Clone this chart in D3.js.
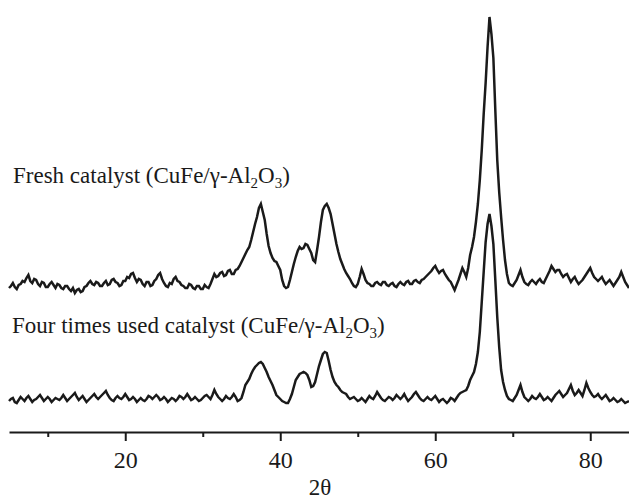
<!DOCTYPE html>
<html>
<head>
<meta charset="utf-8">
<script src="https://cdn.jsdelivr.net/npm/d3@7/dist/d3.min.js"></script>
<style>
  html, body { margin: 0; padding: 0; background: #fff; }
  svg { display: block; }
</style>
</head>
<body>
<svg id="chart" width="629" height="501"></svg>
<script>
// 2θ grid (degrees), 0.25° steps from 5 to 85
const twoTheta = d3.range(5, 85.0001, 0.25);

// Fresh catalyst (CuFe/γ-Al2O3) intensity (arbitrary units), 8 values per 2°
const freshIntensity = [
  144,146,149,145,143,147,148,151,
  150,154,157,151,149,153,152,148,
  146,150,149,145,145,148,150,147,
  144,148,147,144,143,146,146,143,
  141,144,139,142,143,140,141,145,
  146,149,151,148,147,150,149,146,
  146,149,151,147,148,152,153,150,
  149,146,147,151,151,155,154,158,
  159,154,150,153,152,148,146,150,
  150,146,147,151,153,157,159,153,
  149,146,145,149,148,153,155,151,
  150,147,146,144,144,148,147,144,
  143,146,146,143,143,147,145,144,
  148,153,158,155,156,159,160,156,
  157,161,162,158,158,162,163,166,
  170,174,178,182,185,192,200,208,
  215,224,228,220,212,198,186,179,
  174,171,170,166,162,152,146,144,
  145,152,160,168,175,181,185,183,
  184,188,187,183,179,172,170,182,
  195,210,222,226,228,224,218,208,
  198,188,180,173,168,163,159,156,
  153,149,146,145,148,155,163,158,
  152,149,148,146,146,149,150,148,
  147,150,150,147,146,148,149,146,
  145,148,150,148,147,150,151,148,
  148,151,152,150,149,152,153,155,
  157,159,161,164,166,162,159,161,
  162,158,155,152,150,146,142,147,
  152,158,164,160,155,164,177,185,
  195,210,228,252,282,318,349,385,
  415,398,374,322,272,240,215,192,
  172,158,149,147,146,149,152,157,
  162,155,150,148,147,150,152,150,
  148,151,153,150,149,153,157,161,
  166,163,160,162,162,158,155,157,
  158,154,150,153,155,151,148,150,
  152,155,158,161,164,159,155,153,
  151,153,155,151,148,150,152,149,
  146,149,152,155,160,155,150,147,
  144
];

// Four times used catalyst (CuFe/γ-Al2O3) intensity (arbitrary units)
const usedIntensity = [
  31,33,34,30,29,32,35,33,
  31,34,36,33,30,32,33,35,
  37,34,31,33,35,33,30,32,
  34,33,32,34,37,34,31,33,
  35,37,39,35,32,34,36,33,
  30,32,34,36,38,35,33,35,
  37,39,41,37,34,32,31,34,
  36,34,33,35,38,35,32,33,
  35,33,30,32,34,32,31,33,
  36,35,33,35,37,35,32,33,
  35,33,30,32,34,33,31,33,
  36,35,33,35,38,35,32,33,
  35,33,31,32,34,36,37,35,
  33,37,42,38,35,33,31,33,
  36,34,33,35,38,35,31,32,
  34,40,47,50,53,58,62,65,
  67,69,70,68,64,60,55,51,
  47,42,37,35,33,31,30,29,
  29,33,38,45,52,55,58,59,
  60,59,57,52,45,46,50,58,
  66,72,78,80,79,71,62,55,
  50,47,45,42,40,39,38,35,
  33,34,35,33,31,32,34,32,
  30,33,36,34,33,36,40,37,
  34,32,31,33,35,34,32,34,
  37,35,33,35,38,34,31,33,
  35,38,40,37,34,32,31,33,
  35,33,32,34,36,33,30,32,
  33,31,29,31,34,33,31,34,
  37,39,40,41,42,46,52,56,
  60,68,80,100,130,160,190,208,
  218,206,188,152,115,85,62,50,
  42,36,33,32,31,34,37,42,
  47,40,35,33,31,33,36,34,
  33,35,38,35,32,33,35,33,
  31,34,37,39,41,38,35,37,
  39,43,47,41,37,39,42,39,
  36,42,49,44,40,37,35,36,
  38,35,33,35,37,34,31,32,
  34,32,30,31,33,31,29,30,
  31
];

const majorTicks = [20, 40, 60, 80];
const minorTicks = [10, 30, 50, 70];
const xLabel = "2θ";
const freshLabel = ["Fresh catalyst (CuFe/γ-Al", "2", "O", "3", ")"];
const usedLabel = ["Four times used catalyst (CuFe/γ-Al", "2", "O", "3", ")"];

const serif = '"Liberation Serif", "Times New Roman", serif';
const ink = "#1a1a1a";
const svg = d3.select("#chart");

const x = d3.scaleLinear().domain([5, 85]).range([9, 629]);
const y = d3.scaleLinear().domain([0, 420]).range([432, 12]);

const line = d3.line()
  .x((d, i) => x(twoTheta[i]))
  .y(d => y(d));

[freshIntensity, usedIntensity].forEach(series => {
  svg.append("path")
    .datum(series)
    .attr("d", line)
    .attr("fill", "none")
    .attr("stroke", ink)
    .attr("stroke-width", 2.5)
    .attr("stroke-linejoin", "miter");
});

// Axis
const axisY = 432;
const gx = svg.append("g").attr("transform", `translate(0,${axisY})`);
gx.call(d3.axisBottom(x).tickValues(majorTicks).tickSize(9).tickSizeOuter(0));
gx.select(".domain").attr("stroke", ink).attr("stroke-width", 2);
gx.selectAll(".tick line").attr("stroke", ink).attr("stroke-width", 2);
gx.selectAll(".tick text")
  .style("font-family", serif)
  .style("font-size", "24px")
  .style("fill", ink)
  .attr("y", 36).attr("dy", 0);

const gm = svg.append("g").attr("transform", `translate(0,${axisY})`);
gm.call(d3.axisBottom(x).tickValues(minorTicks).tickSize(5).tickSizeOuter(0).tickFormat(""));
gm.select(".domain").remove();
gm.selectAll(".tick line").attr("stroke", ink).attr("stroke-width", 2);

svg.append("text")
  .attr("x", x(45) + 1).attr("y", 495)
  .attr("text-anchor", "middle")
  .style("font-family", serif)
  .style("font-size", "23px")
  .style("fill", ink)
  .text(xLabel);

function chemLabel(parts, xPos, yPos) {
  const t = svg.append("text").attr("x", xPos).attr("y", yPos)
    .style("font-family", serif).style("font-size", "23px").style("fill", ink);
  t.append("tspan").text(parts[0]);
  t.append("tspan").style("font-size", "15px").attr("dy", 5).text(parts[1]);
  t.append("tspan").attr("dy", -5).text(parts[2]);
  t.append("tspan").style("font-size", "15px").attr("dy", 5).text(parts[3]);
  t.append("tspan").attr("dy", -5).text(parts[4]);
}
chemLabel(freshLabel, 13, 183);
chemLabel(usedLabel, 12, 333);
</script>
</body>
</html>
